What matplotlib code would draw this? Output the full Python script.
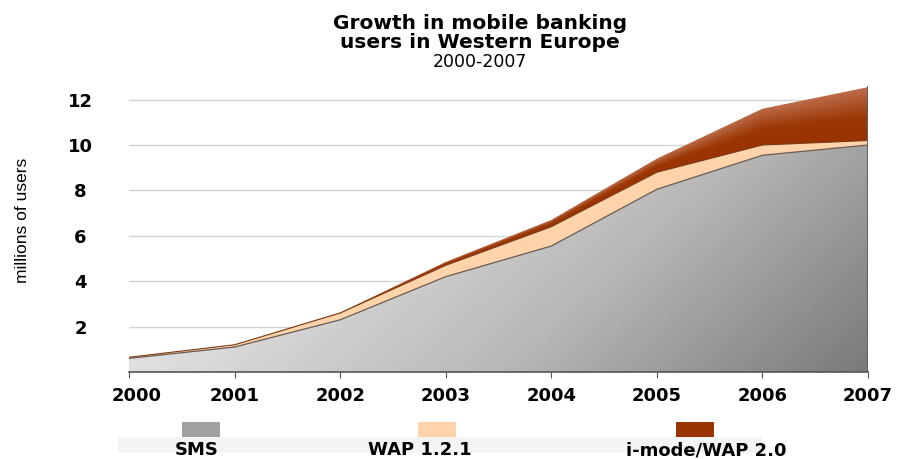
import numpy as np
import matplotlib.pyplot as plt
from matplotlib.patches import Rectangle
from matplotlib.colors import LinearSegmentedColormap
from matplotlib.transforms import ScaledTranslation

# Mobile banking users in Western Europe (millions), stacked by technology
years = [2000, 2001, 2002, 2003, 2004, 2005, 2006, 2007]
sms = [0.6, 1.1, 2.3, 4.2, 5.55, 8.05, 9.55, 10.0]
wap121 = [0.05, 0.1, 0.3, 0.5, 0.85, 0.75, 0.45, 0.2]
imode_wap20 = [0.0, 0.0, 0.02, 0.15, 0.3, 0.6, 1.6, 2.35]

series_names = ["SMS", "WAP 1.2.1", "i-mode/WAP 2.0"]
legend_colors = ["#a0a0a0", "#ffd4aa", "#993300"]

fig = plt.figure(figsize=(8.99, 4.59), dpi=100)
ax = fig.add_axes([0.1435, 0.1895, 0.822, 0.633])

x = np.array(years, dtype=float)
s1 = np.array(sms)
s2 = s1 + np.array(wap121)
s3 = s2 + np.array(imode_wap20)

ymax = 12.8
ax.set_xlim(years[0], years[-1])
ax.set_ylim(0, ymax)

# gridlines behind the areas
for g in [2, 4, 6, 8, 10, 12]:
    ax.axhline(g, color="#d4d4d4", lw=1.0, zorder=0)

# pixel grid in data units for the gradient images
n = 400
gx, gy = np.meshgrid(np.linspace(x[0], x[-1], n), np.linspace(0, ymax, n))


def shaded_band(lower, upper, cmap, val, z):
    poly = ax.fill_between(x, lower, upper, facecolor="none", edgecolor="none", zorder=z)
    img = ax.imshow(val, cmap=cmap, extent=[x[0], x[-1], 0, ymax], aspect="auto",
                    origin="lower", zorder=z, vmin=0, vmax=1, interpolation="bilinear")
    img.set_clip_path(poly.get_paths()[0], ax.transData)


# SMS: light at upper left, darker to the lower right
grey = LinearSegmentedColormap.from_list(
    "grey", [(0.0, "#f0f0f0"), (0.3, "#e0e0e0"), (0.65, "#b8b8b8"), (1.0, "#7a7a7a")])
dark = 0.7 * (gx - x[0]) / (x[-1] - x[0]) + 0.3 * (1 - gy / ymax)
shaded_band(np.zeros_like(s1), s1, grey, dark, 1)

ax.fill_between(x, s1, s2, facecolor="#ffd4aa", edgecolor="none", zorder=1)

# i-mode/WAP 2.0: lighter towards the top of its band
rust = LinearSegmentedColormap.from_list(
    "rust", [(0.0, "#993300"), (0.45, "#9c3806"), (1.0, "#bd6d4a")])
lo = np.interp(gx[0], x, s2)
hi = np.interp(gx[0], x, s3)
frac = np.clip((gy - lo) / np.maximum(hi - lo, 1e-6), 0, 1)
shaded_band(s2, s3, rust, frac, 1)

# thin outlines along the top of each band
ax.plot(x, s1, color="#6b5a50", lw=0.9, zorder=2)
ax.plot(x, s2, color="#7a3a18", lw=0.8, zorder=2)
ax.plot([x[-1], x[-1]], [0, s3[-1]], color="#606060", lw=1.4, zorder=2)

for side in ["left", "right", "top"]:
    ax.spines[side].set_visible(False)
ax.spines["bottom"].set_color("#555555")
ax.spines["bottom"].set_linewidth(1.2)
ax.spines["bottom"].set_zorder(3)

ax.set_xticks(years)
ax.set_xticklabels([str(y) for y in years], fontsize=13, fontweight="bold")
ax.set_yticks([2, 4, 6, 8, 10, 12])
ax.set_yticklabels(["2", "4", "6", "8", "10", "12"], fontsize=13, fontweight="bold")
ax.tick_params(axis="x", length=4, color="#555555", pad=7)
ax.tick_params(axis="y", length=0, pad=35)
for lab in ax.get_yticklabels():
    lab.set_horizontalalignment("center")
first = ax.get_xticklabels()[0]
first.set_transform(first.get_transform() + ScaledTranslation(8 / 100, 0, fig.dpi_scale_trans))

fig.text(0.025, 0.52, "millions of users", rotation=90, ha="center", va="center",
         fontsize=12.5, family=["Liberation Sans Narrow", "Liberation Sans"])

fig.text(0.534, 0.949, "Growth in mobile banking", ha="center", va="center",
         fontsize=14.5, fontweight="bold")
fig.text(0.534, 0.908, "users in Western Europe", ha="center", va="center",
         fontsize=14.5, fontweight="bold")
fig.text(0.534, 0.866, "2000-2007", ha="center", va="center", fontsize=12.5)

# legend: faint band behind labels, swatches above
fig.patches.append(Rectangle((0.131, 0.013), 0.717, 0.035, transform=fig.transFigure,
                             facecolor="#f4f4f4", edgecolor="none", zorder=0))
sw_x = [0.2025, 0.465, 0.752]
lab_x = [0.219, 0.467, 0.786]
for i in range(3):
    fig.patches.append(Rectangle((sw_x[i], 0.048), 0.042, 0.033, transform=fig.transFigure,
                                 facecolor=legend_colors[i], edgecolor="none"))
    fig.text(lab_x[i], 0.019, series_names[i], ha="center", va="center",
             fontsize=13, fontweight="bold")

fig.savefig("out.png", dpi=100)
